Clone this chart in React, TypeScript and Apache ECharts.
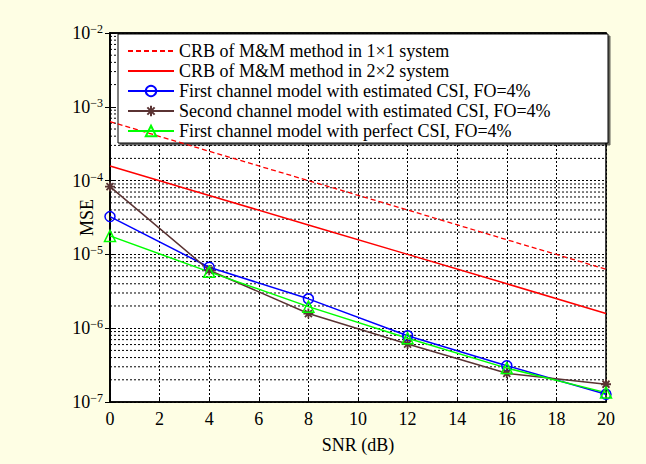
import React, { useEffect, useRef } from "react";
import * as echarts from "echarts";

const snr = [0, 4, 8, 12, 16, 20];
const crb1x1 = [6.3e-4, 2.5e-4, 1.0e-4, 4.0e-5, 1.58e-5, 6.3e-6];
const crb2x2 = [1.58e-4, 6.3e-5, 2.5e-5, 1.0e-5, 4.0e-6, 1.58e-6];
const firstEst = [3.25e-5, 6.7e-6, 2.5e-6, 7.9e-7, 3.1e-7, 1.27e-7];
const secondEst = [8.3e-5, 6.1e-6, 1.58e-6, 6.1e-7, 2.45e-7, 1.74e-7];
const firstPerfect = [1.78e-5, 5.8e-6, 1.96e-6, 7.3e-7, 2.88e-7, 1.34e-7];

const seriesNames = [
  "CRB of M&M method in 1×1 system",
  "CRB of M&M method in 2×2 system",
  "First channel model with estimated CSI, FO=4%",
  "Second channel model with estimated CSI, FO=4%",
  "First channel model with perfect CSI, FO=4%",
];

const decades = [-7, -6, -5, -4, -3];
const mantissas = [2, 3, 4, 5, 6, 7, 8, 9];

const FONT = "'Liberation Serif', 'Times New Roman', serif";

const starPath =
  "path://M0,-6L0,6M-6,0L6,0M-4.2,-4.2L4.2,4.2M-4.2,4.2L4.2,-4.2";

export default function App() {
  const ref = useRef<HTMLDivElement>(null);
  useEffect(() => {
    if (!ref.current) return;
    const chart = echarts.init(ref.current, undefined, { renderer: "svg" });
    const pair = (arr: number[]) => snr.map((x, i) => [x, arr[i]]);
    const dotted = { type: [2, 2] as any, color: "#000", width: 1, opacity: 1 };
    const minorSeries: any[] = [];
    decades.forEach((d) =>
      mantissas.forEach((m) => {
        const v = m * Math.pow(10, d);
        minorSeries.push({
          name: "minor",
          type: "line",
          data: [
            [0, v],
            [20, v],
          ],
          symbol: "none",
          silent: true,
          z: 1,
          lineStyle: dotted,
          emphasis: { disabled: true },
        });
      })
    );
    const noSymbol = { color: "rgba(0,0,0,0)", borderWidth: 0, opacity: 0 };
    const axisLine = { show: true, lineStyle: { color: "#000", width: 1.5 } };
    const tick = { show: true, inside: true, length: 5, lineStyle: { color: "#000" } };
    chart.setOption({
      animation: false,
      backgroundColor: "#fefee4",
      textStyle: { fontFamily: FONT },
      grid: {
        left: 110,
        right: 40,
        top: 33,
        bottom: 62,
        show: true,
        backgroundColor: "#fff",
        borderColor: "#000",
        borderWidth: 1.5,
      },
      xAxis: [
        {
          type: "value",
          min: 0,
          max: 20,
          interval: 2,
          name: "SNR (dB)",
          nameLocation: "middle",
          nameGap: 34,
          nameMoveOverlap: false,
          nameTextStyle: { fontSize: 18, color: "#000", fontFamily: FONT },
          axisLine,
          axisTick: tick,
          axisLabel: { color: "#000", fontSize: 18, margin: 8, fontFamily: FONT },
          splitLine: { show: true, lineStyle: dotted },
        },
        {
          type: "value",
          position: "top",
          min: 0,
          max: 20,
          interval: 2,
          axisLine,
          axisTick: tick,
          axisLabel: { show: false },
          splitLine: { show: false },
        },
      ],
      yAxis: [
        {
          type: "log",
          logBase: 10,
          min: 1e-7,
          max: 1e-2,
          name: "MSE",
          nameLocation: "middle",
          nameGap: 14,
          nameMoveOverlap: false,
          nameTextStyle: { fontSize: 18, color: "#000", fontFamily: FONT },
          axisLine,
          axisTick: tick,
          axisLabel: {
            margin: 7,
            formatter: (v: number) => {
              const e = Math.round(Math.log10(v));
              return "{b|10}{e|−" + Math.abs(e) + "}";
            },
            rich: {
              b: { fontSize: 18, color: "#000", fontFamily: FONT },
              e: { fontSize: 12, color: "#000", fontFamily: FONT, padding: [0, 0, 8, 0] },
            },
          },
          splitLine: { show: true, lineStyle: dotted },
        },
        {
          type: "log",
          logBase: 10,
          position: "right",
          min: 1e-7,
          max: 1e-2,
          axisLine,
          axisTick: tick,
          axisLabel: { show: false },
          splitLine: { show: false },
        },
      ],
      legend: {
        left: 127,
        top: 42,
        orient: "vertical",
        data: [
          { name: seriesNames[0], itemStyle: noSymbol },
          { name: seriesNames[1], itemStyle: noSymbol },
          seriesNames[2],
          seriesNames[3],
          seriesNames[4],
        ],
        itemWidth: 46,
        itemHeight: 13,
        itemGap: 2,
        padding: 0,
        textStyle: { fontSize: 18, color: "#000", fontFamily: FONT, lineHeight: 18 },
      },
      graphic: [
        {
          type: "rect",
          z: 3,
          shape: { x: 118, y: 34, width: 490, height: 109 },
          style: {
            fill: "#fff",
            stroke: "#000",
            lineWidth: 1,
            shadowColor: "rgba(0,0,0,0.6)",
            shadowOffsetX: 2,
            shadowOffsetY: 2,
            shadowBlur: 0,
          },
        },
      ],
      series: [
        ...minorSeries,
        {
          name: seriesNames[0],
          type: "line",
          data: pair(crb1x1),
          symbol: "none",
          color: "#ff0000",
          lineStyle: { color: "#ff0000", width: 1.3, type: [5, 3] },
        },
        {
          name: seriesNames[1],
          type: "line",
          data: pair(crb2x2),
          symbol: "none",
          color: "#ff0000",
          lineStyle: { color: "#ff0000", width: 1.5 },
        },
        {
          name: seriesNames[2],
          type: "line",
          data: pair(firstEst),
          symbol: "circle",
          symbolSize: 10,
          color: "#0000ff",
          lineStyle: { color: "#0000ff", width: 1.5 },
          itemStyle: { color: "rgba(0,0,0,0)", borderColor: "#0000ff", borderWidth: 1.5 },
        },
        {
          name: seriesNames[3],
          type: "line",
          data: pair(secondEst),
          symbol: starPath,
          symbolSize: 10,
          color: "#5a3333",
          lineStyle: { color: "#5a3333", width: 1.5 },
          itemStyle: { color: "rgba(0,0,0,0)", borderColor: "#5a3333", borderWidth: 1.8 },
        },
        {
          name: seriesNames[4],
          type: "line",
          data: pair(firstPerfect),
          symbol: "triangle",
          symbolSize: 11,
          color: "#00ff00",
          lineStyle: { color: "#00ff00", width: 1.5 },
          itemStyle: { color: "rgba(0,0,0,0)", borderColor: "#00ff00", borderWidth: 1.5 },
        },
      ],
    });
    return () => chart.dispose();
  }, []);
  return (
    <div
      ref={ref}
      style={{ position: "fixed", left: 0, top: 0, width: 646, height: 464 }}
    />
  );
}
